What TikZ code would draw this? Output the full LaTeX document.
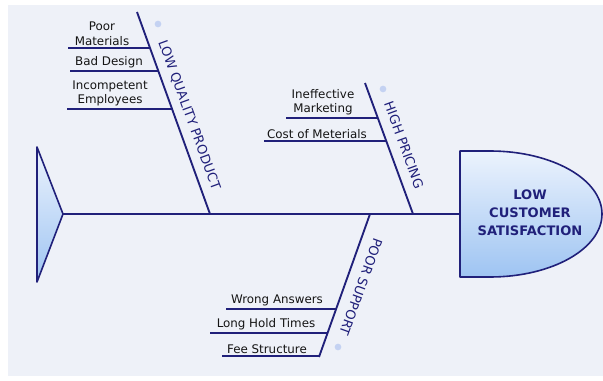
\documentclass[tikz,border=0pt]{standalone}
\usepackage{fontspec}
\setmainfont{DejaVu Sans}
\definecolor{bone}{RGB}{32,32,122}
\definecolor{bg}{RGB}{238,241,248}
\definecolor{dotc}{RGB}{196,210,242}
\definecolor{txt}{RGB}{20,20,20}
\definecolor{fishtop}{RGB}{236,243,253}
\definecolor{fishbot}{RGB}{158,196,242}
\begin{document}
\begin{tikzpicture}[x=0.75pt,y=-0.75pt,
  boneline/.style={draw=bone,line width=1.4pt},
  subline/.style={draw=bone,line width=1.3pt},
  causetext/.style={font=\fontsize{8.9}{11}\selectfont, text=txt, align=center, inner sep=1pt, anchor=south},
  bonetext/.style={font=\fontsize{9.8}{11}\selectfont, text=bone, inner sep=0pt},
  headtext/.style={font=\bfseries\fontsize{9.8}{13.4}\selectfont, text=bone, align=center, inner sep=0pt},
  marker/.style={circle, fill=dotc, inner sep=0pt, minimum size=5pt},
  fishfill/.style={draw=bone, line width=1.2pt, top color=fishtop, bottom color=fishbot, line join=round}
]
\useasboundingbox (0,0) rectangle (603,381);
\fill[white] (0,0) rectangle (603,381);
\fill[bg] (8,5) rectangle (603,376);

% tail
\coordinate (tailtop) at (37,147);
\coordinate (tailtip) at (63,214);
\coordinate (tailbot) at (37,282);
\path[fishfill] (tailtop) -- (tailtip) -- (tailbot) -- cycle;

% head
\coordinate (headleft) at (460,214);
\path[fishfill] (460,151) -- (490,151) arc[start angle=-90, end angle=90, x radius=112, y radius=63] -- (460,277) -- cycle;
\node[headtext] (effect) at (530,213) {LOW\\CUSTOMER\\SATISFACTION};

% spine
\draw[boneline] (tailtip) -- (headleft);

% bones
\coordinate (lqTop) at (137,12);  \coordinate (lqBot) at (210,214);
\coordinate (hpTop) at (365,83);  \coordinate (hpBot) at (413,214);
\coordinate (psTop) at (370,214); \coordinate (psBot) at (319,357);
\draw[boneline] (lqTop) -- (lqBot);
\draw[boneline] (hpTop) -- (hpBot);
\draw[boneline] (psTop) -- (psBot);

\node[bonetext, rotate=-70] (lqLabel) at (189,115) {LOW QUALITY PRODUCT};
\node[bonetext, rotate=-70] (hpLabel) at (404,145) {HIGH PRICING};
\node[bonetext, rotate=-110] (psLabel) at (361,287) {POOR SUPPORT};

\node[marker] (lqDot) at (158,24) {};
\node[marker] (hpDot) at (383,89) {};
\node[marker] (psDot) at (338,347) {};

% low quality product causes
\coordinate (pmL) at (68,48);  \coordinate (pmR) at (150.1,48);
\coordinate (bdL) at (70,71);  \coordinate (bdR) at (158.4,71);
\coordinate (ieL) at (67,109); \coordinate (ieR) at (172.2,109);
\draw[subline] (pmL) -- (pmR);
\draw[subline] (bdL) -- (bdR);
\draw[subline] (ieL) -- (ieR);
\node[causetext] (pm) at (102,47) {Poor\\Materials};
\node[causetext] (bd) at (109,70) {Bad Design};
\node[causetext] (ie) at (110,108) {Incompetent\\Employees};

% high pricing causes
\coordinate (imL) at (286,118); \coordinate (imR) at (377.8,118);
\coordinate (cmL) at (264,141); \coordinate (cmR) at (386.3,141);
\draw[subline] (imL) -- (imR);
\draw[subline] (cmL) -- (cmR);
\node[causetext] (im) at (323,117) {Ineffective\\Marketing};
\node[causetext] (cm) at (317,140) {Cost of Meterials};

% poor support causes
\coordinate (waL) at (226,309); \coordinate (waR) at (336.1,309);
\coordinate (lhL) at (210,333); \coordinate (lhR) at (327.6,333);
\coordinate (fsL) at (222,356); \coordinate (fsR) at (319.4,356);
\draw[subline] (waL) -- (waR);
\draw[subline] (lhL) -- (lhR);
\draw[subline] (fsL) -- (fsR);
\node[causetext] (wa) at (277,308) {Wrong Answers};
\node[causetext] (lh) at (266,332) {Long Hold Times};
\node[causetext] (fs) at (267,355) {Fee Structure};
\end{tikzpicture}
\end{document}
